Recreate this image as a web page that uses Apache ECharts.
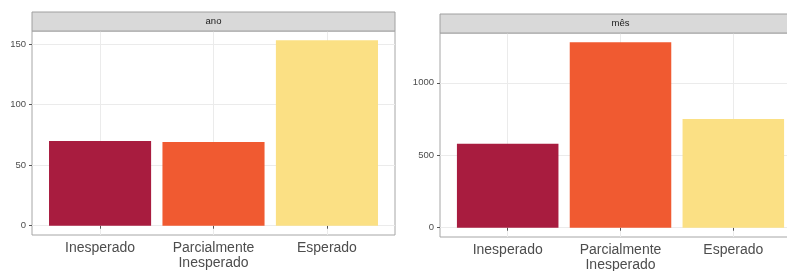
<!DOCTYPE html>
<html>
<head>
<meta charset="utf-8">
<script src="https://cdn.jsdelivr.net/npm/echarts@6/dist/echarts.min.js"></script>
<style>
  html, body { margin: 0; padding: 0; background: #fff; }
  #chart { width: 787px; height: 271px; }
</style>
</head>
<body>
<div id="chart"></div>
<script>
// dados
const categories = ['Inesperado', 'Parcialmente\nInesperado', 'Esperado']
const valoresAno = [70, 69, 153]
const valoresMes = [580, 1280, 750]
const ticksAno = [0, 50, 100, 150]
const ticksMes = [0, 500, 1000]
const facetas = ['ano', 'mês']

const cores = ['#A81C3F', '#F05A31', '#FBE084']
const font = "'Liberation Sans', Arial, sans-serif"
const catPos = categories.map((_, i) => i + 1)

const chart = echarts.init(document.getElementById('chart'))

function xAxisFor(gridIndex) {
  return {
    type: 'value', gridIndex, min: 0.4, max: 3.6,
    axisLine: { show: false },
    axisTick: { show: true, customValues: catPos, length: 3, lineStyle: { color: '#555' } },
    axisLabel: {
      customValues: catPos, margin: 5,
      formatter: v => categories[Math.round(v) - 1],
      color: '#4d4d4d', fontSize: 14, lineHeight: 15.5, fontFamily: font,
    },
    splitLine: { show: true, lineStyle: { color: '#ebebeb', width: 1 } },
  }
}

function yAxisFor(gridIndex, vals, ticks) {
  const top = Math.max(...vals)
  return {
    type: 'value', gridIndex, min: -0.05 * top, max: 1.05 * top,
    axisLine: { show: false },
    axisTick: { show: true, customValues: ticks, length: 3, lineStyle: { color: '#555' } },
    axisLabel: {
      customValues: ticks, margin: 6, formatter: v => String(v),
      color: '#4d4d4d', fontSize: 9.5, fontFamily: font,
    },
    splitLine: { show: true, lineStyle: { color: '#ebebeb', width: 1 } },
  }
}

function barSeries(idx, vals) {
  return {
    type: 'bar', xAxisIndex: idx, yAxisIndex: idx,
    barWidth: '90%',
    data: vals.map((v, i) => ({ value: [catPos[i], v], itemStyle: { color: cores[i] } })),
  }
}

function strip(x, y, w, label) {
  return [
    { type: 'rect', shape: { x, y, width: w, height: 19 },
      style: { fill: '#d9d9d9', stroke: '#a0a0a0', lineWidth: 1 }, z: 10 },
    { type: 'text', x: x + w / 2, y: y + 9.5,
      style: { text: label, fill: '#1a1a1a', font: '9.5px ' + font, align: 'center', verticalAlign: 'middle' }, z: 11 },
  ]
}

chart.setOption({
  animation: false,
  grid: [
    { left: 32, top: 31, width: 363, height: 204, outerBoundsMode: 'none',
      show: true, borderColor: '#a6a6a6', borderWidth: 1, backgroundColor: 'transparent' },
    // o painel da direita continua além da borda da imagem
    { left: 440, top: 33, width: 361, height: 204, outerBoundsMode: 'none',
      show: true, borderColor: '#a6a6a6', borderWidth: 1, backgroundColor: 'transparent' },
  ],
  xAxis: [xAxisFor(0), xAxisFor(1)],
  yAxis: [yAxisFor(0, valoresAno, ticksAno), yAxisFor(1, valoresMes, ticksMes)],
  series: [barSeries(0, valoresAno), barSeries(1, valoresMes)],
  graphic: [...strip(32, 12, 363, facetas[0]), ...strip(440, 14, 361, facetas[1])],
})
</script>
</body>
</html>
